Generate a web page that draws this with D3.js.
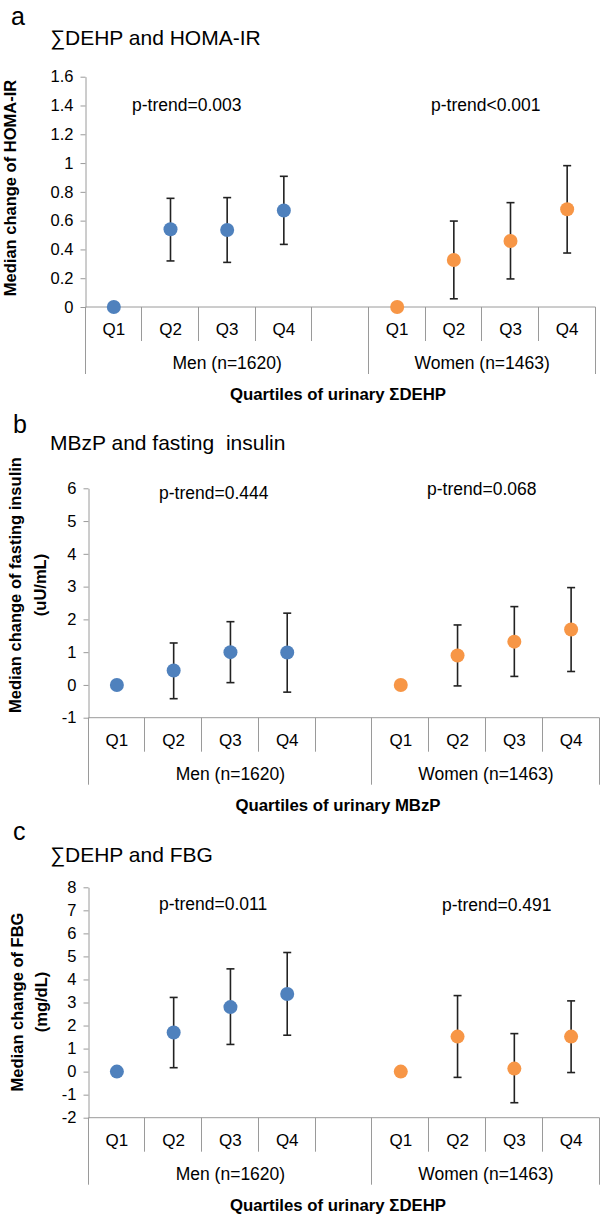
<!DOCTYPE html>
<html><head><meta charset="utf-8">
<script src="https://cdn.jsdelivr.net/npm/d3@7"></script>
<style>
html,body{margin:0;padding:0;background:#fff;}
svg{display:block;font-family:"Liberation Sans",Arial,Helvetica,sans-serif;}
</style></head><body>
<svg id="chart" width="600" height="1216"></svg>
<script>
// ---------- data ----------
const quartiles = ["Q1", "Q2", "Q3", "Q4"];
const groups = ["Men (n=1620)", "Women (n=1463)"];
const slots = ["M-Q1", "M-Q2", "M-Q3", "M-Q4", "M-gap", "W-Q1", "W-Q2", "W-Q3", "W-Q4"];

// Panel a: ΣDEHP and HOMA-IR
const homaTicks = [0, 0.2, 0.4, 0.6, 0.8, 1, 1.2, 1.4, 1.6];
const homaTickLabels = ["0", "0.2", "0.4", "0.6", "0.8", "1", "1.2", "1.4", "1.6"];
const homaMen = [0, 0.54, 0.535, 0.67];
const homaMenLow = [null, 0.32, 0.31, 0.435];
const homaMenHigh = [null, 0.755, 0.76, 0.908];
const homaWomen = [0, 0.327, 0.459, 0.679];
const homaWomenLow = [null, 0.057, 0.195, 0.375];
const homaWomenHigh = [null, 0.597, 0.725, 0.982];
const homaPTrend = ["p-trend=0.003", "p-trend<0.001"];

// Panel b: MBzP and fasting insulin
const insTicks = [-1, 0, 1, 2, 3, 4, 5, 6];
const insTickLabels = ["-1", "0", "1", "2", "3", "4", "5", "6"];
const insMen = [0, 0.44, 1.0, 0.99];
const insMenLow = [null, -0.42, 0.07, -0.22];
const insMenHigh = [null, 1.28, 1.93, 2.19];
const insWomen = [0, 0.9, 1.32, 1.69];
const insWomenLow = [null, -0.03, 0.26, 0.41];
const insWomenHigh = [null, 1.83, 2.39, 2.97];
const insPTrend = ["p-trend=0.444", "p-trend=0.068"];

// Panel c: ΣDEHP and FBG
const fbgTicks = [-2, -1, 0, 1, 2, 3, 4, 5, 6, 7, 8];
const fbgTickLabels = ["-2", "-1", "0", "1", "2", "3", "4", "5", "6", "7", "8"];
const fbgMen = [0, 1.7, 2.8, 3.37];
const fbgMenLow = [null, 0.17, 1.18, 1.58];
const fbgMenHigh = [null, 3.22, 4.46, 5.17];
const fbgWomen = [0, 1.52, 0.13, 1.52];
const fbgWomenLow = [null, -0.25, -1.35, -0.04];
const fbgWomenHigh = [null, 3.3, 1.65, 3.07];
const fbgPTrend = ["p-trend=0.011", "p-trend=0.491"];

// ---------- panels ----------
const panels = [
  { letter: "a", title: "\u2211DEHP and HOMA-IR", yTitle: ["Median change of HOMA-IR"],
    xTitle: "Quartiles of urinary \u03A3DEHP", ticks: homaTicks, tickLabels: homaTickLabels,
    men: [homaMen, homaMenLow, homaMenHigh], women: [homaWomen, homaWomenLow, homaWomenHigh], pt: homaPTrend,
    g: { left: 85.5, right: 595.5, top: 76.7, bottom: 307, letterX: 11, letterY: 25, titleY: 44.5,
         pX: [132, 431], pY: [111, 111], yTitleX: [16], yTitleC: 188 } },
  { letter: "b", title: "MBzP and fasting  insulin", yTitle: ["Median change of fasting insulin", "(uU/mL)"],
    xTitle: "Quartiles of urinary MBzP", ticks: insTicks, tickLabels: insTickLabels,
    men: [insMen, insMenLow, insMenHigh], women: [insWomen, insWomenLow, insWomenHigh], pt: insPTrend,
    g: { left: 88.5, right: 599.5, top: 488.3, bottom: 717.7, letterX: 13, letterY: 433, titleY: 450,
         pX: [159, 427], pY: [499, 495], yTitleX: [21, 46], yTitleC: 585 } },
  { letter: "c", title: "\u2211DEHP and FBG", yTitle: ["Median change of FBG", "(mg/dL)"],
    xTitle: "Quartiles of urinary \u03A3DEHP", ticks: fbgTicks, tickLabels: fbgTickLabels,
    men: [fbgMen, fbgMenLow, fbgMenHigh], women: [fbgWomen, fbgWomenLow, fbgWomenHigh], pt: fbgPTrend,
    g: { left: 88.5, right: 599.5, top: 887.3, bottom: 1117.7, letterX: 13, letterY: 840, titleY: 862,
         pX: [159, 442], pY: [910, 911], yTitleX: [23, 47], yTitleC: 1002 } }
];

const colors = { men: "#4F81BD", women: "#F79646" };
const axisColor = "#9a9a9a";
const errColor = "#222";
const svg = d3.select("#chart");

panels.forEach(p => {
  const G = p.g;
  const root = svg.append("g");
  const x = d3.scaleBand().domain(slots).range([G.left, G.right]).paddingInner(0).paddingOuter(0);
  const y = d3.scaleLinear().domain([p.ticks[0], p.ticks[p.ticks.length - 1]]).range([G.bottom, G.top]);
  const bw = x.bandwidth();

  // letter and title
  root.append("text").attr("x", G.letterX).attr("y", G.letterY).attr("font-size", 25).text(p.letter);
  root.append("text").attr("x", 50).attr("y", G.titleY).attr("font-size", 21)
      .style("white-space", "pre").text(p.title);

  // y axis
  const yAxis = d3.axisLeft(y).tickValues(p.ticks).tickFormat((d, i) => p.tickLabels[i])
      .tickSize(5).tickSizeOuter(0).tickPadding(7);
  const ya = root.append("g").attr("transform", `translate(${G.left},0)`).call(yAxis);
  ya.select(".domain").attr("stroke", axisColor);
  ya.selectAll(".tick line").attr("stroke", axisColor);
  ya.selectAll(".tick text").attr("font-size", 16.5).attr("fill", "#000")
      .attr("font-family", "Liberation Sans, Arial, sans-serif");

  // y title
  const yt = root.append("g");
  p.yTitle.forEach((line, i) => {
    yt.append("text").attr("transform", `translate(${G.yTitleX[i]},${G.yTitleC}) rotate(-90)`)
      .attr("text-anchor", "middle").attr("font-weight", "bold").attr("font-size", 16.5).text(line);
  });

  // category axis line
  const cat = root.append("g").attr("stroke", axisColor).attr("stroke-width", 1);
  cat.append("line").attr("x1", G.left).attr("x2", G.right).attr("y1", G.bottom).attr("y2", G.bottom);
  const bounds = slots.map(s => x(s)).concat([x.range()[1]]);
  bounds.forEach((bx, i) => {
    const isGroup = (i === 0 || i === 5 || i === slots.length);
    const xx = Math.round(bx) - 0.5;
    cat.append("line").attr("x1", xx).attr("x2", xx)
      .attr("y1", G.bottom).attr("y2", G.bottom + (isGroup ? 67 : 34));
  });

  // Q labels
  slots.forEach(s => {
    if (s.endsWith("gap")) return;
    root.append("text").attr("x", x(s) + bw / 2).attr("y", G.bottom + 28)
      .attr("text-anchor", "middle").attr("font-size", 17).text(s.split("-")[1]);
  });
  // group labels
  const gMen = (x("M-Q1") + x("W-Q1")) / 2;
  const gWomen = (x("W-Q1") + x.range()[1]) / 2;
  [gMen, gWomen].forEach((gx, i) => {
    root.append("text").attr("x", gx).attr("y", G.bottom + 62)
      .attr("text-anchor", "middle").attr("font-size", 17.5).text(groups[i]);
  });
  // x title
  root.append("text").attr("x", 338).attr("y", G.bottom + 93).attr("text-anchor", "middle")
    .attr("font-weight", "bold").attr("font-size", 16.8).text(p.xTitle);

  // p-trend
  p.pt.forEach((t, i) => {
    root.append("text").attr("x", G.pX[i]).attr("y", G.pY[i]).attr("font-size", 17.5).text(t);
  });

  // series
  [["M", p.men, colors.men], ["W", p.women, colors.women]].forEach(([key, ser, col]) => {
    const [mid, lo, hi] = ser;
    const pts = quartiles.map((q, i) => ({ cx: x(key + "-" + q) + bw / 2, v: mid[i], lo: lo[i], hi: hi[i] }));
    const eb = root.append("g").attr("stroke", errColor).attr("stroke-width", 1.6);
    pts.filter(d => d.lo !== null).forEach(d => {
      eb.append("line").attr("x1", d.cx).attr("x2", d.cx).attr("y1", y(d.lo)).attr("y2", y(d.hi));
      eb.append("line").attr("x1", d.cx - 4).attr("x2", d.cx + 4).attr("y1", y(d.lo)).attr("y2", y(d.lo));
      eb.append("line").attr("x1", d.cx - 4).attr("x2", d.cx + 4).attr("y1", y(d.hi)).attr("y2", y(d.hi));
    });
    root.append("g").selectAll("circle").data(pts).join("circle")
      .attr("cx", d => d.cx).attr("cy", d => y(d.v)).attr("r", 7).attr("fill", col);
  });
});
</script>
</body></html>
